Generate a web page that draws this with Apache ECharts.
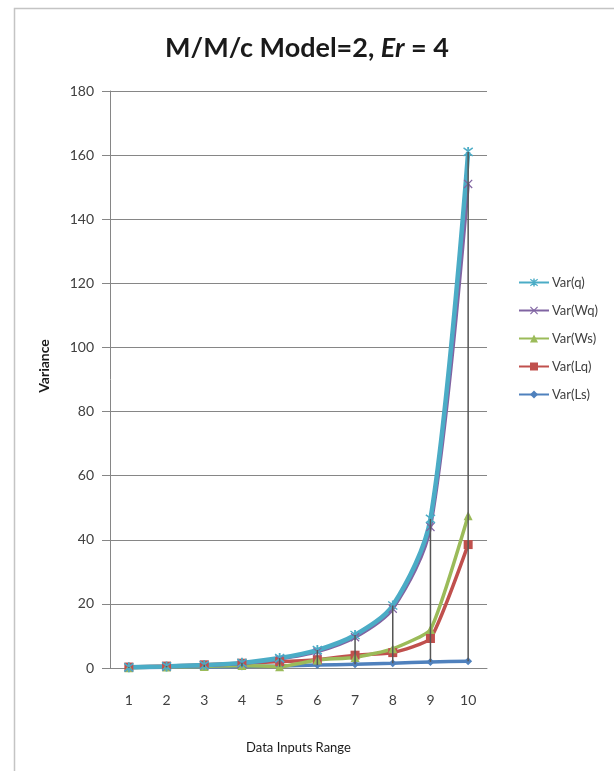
<!DOCTYPE html>
<html>
<head>
<meta charset="utf-8">
<script src="https://cdn.jsdelivr.net/npm/echarts@6/dist/echarts.min.js"></script>
<style>
  html, body { margin: 0; padding: 0; background: #ffffff; }
  #chart { width: 614px; height: 771px; }
</style>
</head>
<body>
<div id="chart"></div>
<script>
// Data inputs range (category axis)
const categories = ['1', '2', '3', '4', '5', '6', '7', '8', '9', '10'];

// Variance values per series
const varQ  = [0.2, 0.5, 0.9, 1.6, 3.1, 5.6, 10.3, 19.5, 46.5, 161];
const varWq = [0.15, 0.4, 0.8, 1.4, 2.8, 5.1, 9.6, 18.5, 44, 151];
const varWs = [0.1, 0.3, 0.5, 0.8, 0.4, 2.5, 3.3, 6, 12, 47.5];
const varLq = [0.3, 0.6, 1.0, 1.5, 2.0, 2.6, 4.0, 4.8, 9.2, 38.5];
const varLs = [0.1, 0.2, 0.35, 0.5, 0.6, 0.9, 1.2, 1.5, 1.9, 2.1];

// Value axis ticks
const yTicks = [0, 20, 40, 60, 80, 100, 120, 140, 160, 180];

const FONT = 'Lato, "Open Sans", sans-serif';

// Marker shapes
const SYM_X = 'path://M0,1 L1,0 L5,4 L9,0 L10,1 L6,5 L10,9 L9,10 L5,6 L1,10 L0,9 L4,5 Z';
const SYM_STAR = 'path://M0,1.6 L0.8,0.4 L5,3.4 L9.2,0.4 L10,1.6 L5.9,4.6 L5.9,0 L4.1,0 L4.1,4.6 Z ' +
  'M0,8.4 L0.8,9.6 L5,6.6 L9.2,9.6 L10,8.4 L5.9,5.4 L5.9,10 L4.1,10 L4.1,5.4 Z M4.1,3 L5.9,3 L5.9,7 L4.1,7 Z';

const seriesDefs = [
  { name: 'Var(Ls)', data: varLs, color: '#4f81bd', symbol: 'diamond', size: 8, width: 3.5, smooth: 0.15 },
  { name: 'Var(Lq)', data: varLq, color: '#c0504d', symbol: 'rect', size: 9, width: 3.5, smooth: 0.15 },
  { name: 'Var(Ws)', data: varWs, color: '#9bbb59', symbol: 'triangle', size: 9, width: 3.5, smooth: 0.15 },
  { name: 'Var(Wq)', data: varWq, color: '#8064a2', symbol: SYM_X, size: 9, width: 3.5, smooth: 0.3 },
  { name: 'Var(q)',  data: varQ,  color: '#4bacc6', symbol: SYM_STAR, size: 10, width: 4.5, smooth: 0.3 }
];

// High-low lines spanning all series at each category
const highLow = categories.map((c, i) => {
  const vals = seriesDefs.map(s => s.data[i]);
  return [i, Math.min.apply(null, vals), Math.max.apply(null, vals)];
});

const lineSeries = seriesDefs.map(s => ({
  name: s.name,
  type: 'line',
  data: s.data,
  smooth: s.smooth,
  symbol: s.symbol,
  symbolSize: s.size,
  showAllSymbol: true,
  color: s.color,
  lineStyle: { color: s.color, width: s.width },
  itemStyle: { color: s.color },
  z: 3
}));

const option = {
  backgroundColor: '#ffffff',
  animation: false,
  textStyle: { fontFamily: FONT },
  title: {
    text: '{n|M/M/c Model=2, }{i|Er}{n| = 4}',
    left: 'center',
    top: 30,
    textStyle: {
      rich: {
        n: { fontFamily: FONT, fontWeight: 'bold', fontSize: 27, color: '#1a1a1a' },
        i: { fontFamily: FONT, fontWeight: 'bold', fontStyle: 'italic', fontSize: 27, color: '#1a1a1a' }
      }
    }
  },
  graphic: [
    {
      type: 'rect',
      shape: { x: 14.5, y: 8.5, width: 700, height: 800 },
      style: { fill: 'none', stroke: '#c4c4c4', lineWidth: 1.5 },
      silent: true
    },
    {
      type: 'text',
      x: 44, y: 366,
      rotation: Math.PI / 2,
      style: {
        text: 'Variance',
        fontFamily: FONT,
        fontWeight: 'bold',
        fontSize: 14,
        fill: '#1a1a1a',
        align: 'center',
        verticalAlign: 'middle'
      },
      silent: true
    }
  ],
  legend: {
    orient: 'vertical',
    left: 513,
    top: 271,
    itemWidth: 30,
    itemHeight: 10,
    itemGap: 15,
    data: ['Var(q)', 'Var(Wq)', 'Var(Ws)', 'Var(Lq)', 'Var(Ls)'],
    textStyle: { fontFamily: FONT, fontSize: 13, color: '#404040', padding: [0, 0, 0, -2] }
  },
  grid: { left: 110, right: 127, top: 91, bottom: 103 },
  xAxis: {
    type: 'category',
    data: categories,
    boundaryGap: true,
    name: 'Data Inputs Range',
    nameLocation: 'middle',
    nameGap: 73,
    nameTextStyle: { fontFamily: FONT, fontSize: 13, color: '#1a1a1a' },
    axisLine: { lineStyle: { color: '#868686', width: 1 } },
    axisTick: { show: false },
    axisLabel: { margin: 25, fontFamily: FONT, fontSize: 14, color: '#404040' },
    splitLine: { show: false }
  },
  yAxis: {
    type: 'value',
    min: yTicks[0],
    max: yTicks[yTicks.length - 1],
    interval: yTicks[1] - yTicks[0],
    axisLine: { show: true, lineStyle: { color: '#868686', width: 1 } },
    axisTick: { show: true, inside: false, length: 8, lineStyle: { color: '#868686' } },
    axisLabel: { margin: 16, fontFamily: FONT, fontSize: 14, color: '#404040' },
    splitLine: { show: true, lineStyle: { color: '#868686', width: 1 } }
  },
  series: lineSeries.concat([{
    type: 'custom',
    silent: true,
    data: highLow,
    encode: { x: 0, y: [1, 2] },
    z: 5,
    renderItem: function (params, api) {
      const lo = api.coord([api.value(0), api.value(1)]);
      const hi = api.coord([api.value(0), api.value(2)]);
      return {
        type: 'line',
        shape: { x1: lo[0], y1: lo[1], x2: hi[0], y2: hi[1] },
        style: { stroke: '#555555', lineWidth: 1.5 }
      };
    }
  }])
};

const chart = echarts.init(document.getElementById('chart'), null, { renderer: 'canvas' });
chart.setOption(option);
</script>
</body>
</html>
